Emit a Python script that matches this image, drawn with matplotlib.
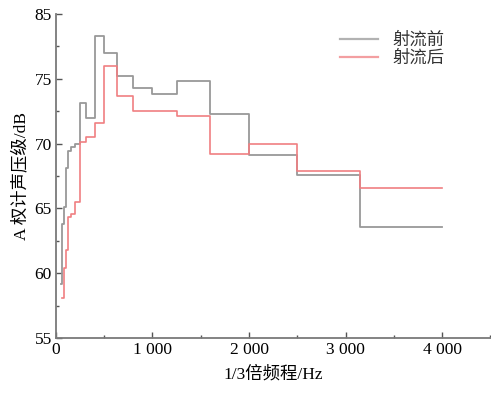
import matplotlib
matplotlib.use("Agg")
import matplotlib.pyplot as plt
import numpy as np
from matplotlib.ticker import MultipleLocator

plt.rcParams['font.family'] = ['Liberation Serif', 'Noto Sans CJK SC', 'DejaVu Sans']

# 1/3 octave band centre frequencies (Hz)
freq_before = [50, 63, 80, 100, 125, 160, 200, 250, 315, 400, 500, 630, 800,
               1000, 1250, 1600, 2000, 2500, 3150, 4000]
level_before = [59.2, 63.8, 65.1, 68.1, 69.4, 69.7, 70.0, 73.1, 72.0, 78.3, 77.0,
                75.2, 74.3, 73.8, 74.85, 72.3, 69.1, 67.6, 63.6, 63.6]

freq_after = [63, 80, 100, 125, 160, 200, 250, 315, 400, 500, 630, 800,
              1000, 1250, 1600, 2000, 2500, 3150, 4000]
level_after = [58.1, 60.4, 61.8, 64.3, 64.6, 65.5, 70.15, 70.5, 71.6, 76.0, 73.7,
               72.5, 72.5, 72.1, 69.2, 70.0, 67.9, 66.6, 66.6]

xticks = [0, 1000, 2000, 3000, 4000]
xtick_labels = ['0', '1 000', '2 000', '3 000', '4 000']
yticks = [55, 60, 65, 70, 75, 80]
ytick_labels = ['55', '60', '65', '70', '75', '85']

fig = plt.figure(figsize=(4.91, 3.95), dpi=100)
ax = fig.add_axes([0.114, 0.1443, 0.8846, 0.8203])

ax.step(freq_before, level_before, where='post', color='#999999', lw=1.3, label='射流前')
ax.step(freq_after, level_after, where='post', color='#f07f82', lw=1.2, label='射流后')

ax.set_xlim(0, 4500)
ax.set_ylim(55, 80)
ax.set_xticks(xticks)
ax.set_xticklabels(xtick_labels)
ax.set_yticks(yticks)
ax.set_yticklabels(ytick_labels)
ax.xaxis.set_minor_locator(MultipleLocator(500))
ax.yaxis.set_minor_locator(MultipleLocator(2.5))

for s in ['top', 'right']:
    ax.spines[s].set_visible(False)
for s in ['left', 'bottom']:
    ax.spines[s].set_color('#7a7a7a')
    ax.spines[s].set_linewidth(1.3)

ax.tick_params(which='major', direction='in', length=4, width=1, color='#555555',
               labelsize=12.5, pad=3)
ax.tick_params(which='minor', direction='in', length=2.5, width=1, color='#555555')

ax.set_xlabel('1/3倍频程/Hz', fontsize=12.5, labelpad=6)
ax.set_ylabel('A 权计声压级/dB', fontsize=12.5, labelpad=4)

leg = ax.legend(loc='upper right', bbox_to_anchor=(0.93, 0.99), frameon=False,
                fontsize=12.5, handlelength=2.2, handletextpad=0.8,
                labelspacing=0.1)
for t in leg.get_texts():
    t.set_color('#333333')
for h in leg.get_lines():
    h.set_linewidth(1.6)
    h.set_alpha(0.75)

fig.savefig('out.png', dpi=100)
